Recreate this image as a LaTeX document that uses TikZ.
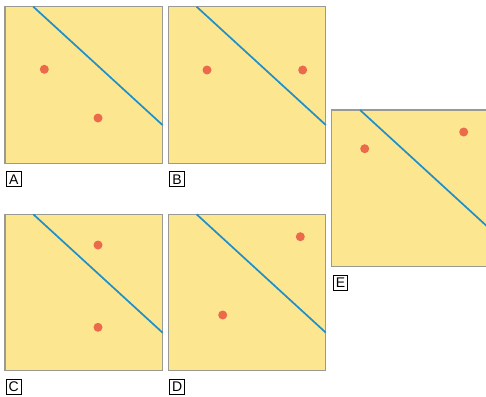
\documentclass[tikz,border=0pt]{standalone}
\usepackage{fontspec}
\setmainfont{Liberation Sans}
\definecolor{panelfill}{HTML}{FCE690}
\definecolor{panelgray}{HTML}{9A9A90}
\definecolor{diagblue}{HTML}{1E8FC8}
\definecolor{dotred}{HTML}{EB6A4B}
\tikzset{
  panelbox/.style={draw=panelgray, fill=panelfill, line width=1.1pt},
  diagline/.style={draw=diagblue, line width=1.7pt},
  reddot/.style={circle, fill=dotred, inner sep=0pt, minimum size=9pt},
  labbox/.style={draw=black, line width=0.8pt, inner sep=0pt, minimum width=14.5pt, minimum height=15pt, font=\fontsize{14}{14}\selectfont},
}
\newcommand{\mypanel}[7]{%
  \begin{scope}[shift={(#1,#2)}]
    \draw[panelbox] (0,0) rectangle (157.5,156.5);
    \coordinate (#3top) at (28.3,0);
    \coordinate (#3right) at (157.5,118.3);
    \draw[diagline] (#3top) -- (#3right);
    \node[reddot] (#3d1) at (#5) {};
    \node[reddot] (#3d2) at (#6) {};
    \node[labbox] (#3lab) at (8.8,172.5) {#4};
  \end{scope}}
\begin{document}
\begin{tikzpicture}[x=1pt,y=-1pt]
\useasboundingbox (0,0) rectangle (486,396);
\mypanel{5}{6.7}{A}{A}{39.3,62.6}{93,111.3}{}
\mypanel{168.3}{6.7}{B}{B}{38.7,63.3}{134.4,63.3}{}
\mypanel{331.7}{110}{E}{E}{33,38.7}{132,22}{}
\mypanel{5}{214.3}{C}{C}{93,30.7}{93,113}{}
\mypanel{168.3}{214.3}{D}{D}{132,22.4}{54.4,100.7}{}
\end{tikzpicture}
\end{document}
